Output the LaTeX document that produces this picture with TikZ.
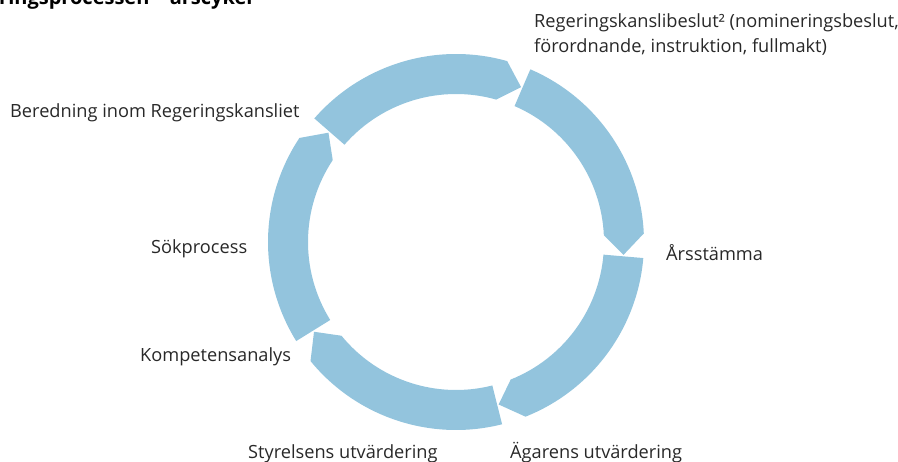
\documentclass[tikz,border=0pt]{standalone}
\usepackage{fontspec}
\setmainfont{Open Sans}
\usetikzlibrary{positioning}

\definecolor{ringblue}{RGB}{147,196,221}
\definecolor{labelgray}{RGB}{40,40,40}

\tikzset{
  seg/.style={fill=ringblue, draw=none},
  lbl/.style={anchor=base west, inner sep=0pt, text=labelgray, font=\fontsize{18.2}{25}\selectfont},
}

\begin{document}
\begin{tikzpicture}[x=1pt,y=1pt]

    \useasboundingbox (0,0) rectangle (898,-462);

    \node [lbl, font=\fontsize{20}{25}\selectfont\bfseries, text=black] at (-1,-5) (title) {ringsprocessen – årscykel};


    % the ring, five arrows going clockwise
    \begin{scope}[shift={(456,-242)}]
	\path [seg] (138.9:188) arc[start angle=138.9, end angle=74.2, radius=188] -- (67.2:168) -- (74.2:148) arc[start angle=74.2, end angle=138.9, radius=148] -- cycle;
	\path [seg] (66.7:188) arc[start angle=66.7, end angle=2.6, radius=188] -- (-4.4:168) -- (2.6:148) arc[start angle=2.6, end angle=66.7, radius=148] -- cycle;
	\path [seg] (-4.9:188) arc[start angle=-4.9, end angle=-68.3, radius=188] -- (-75.3:168) -- (-68.3:148) arc[start angle=-68.3, end angle=-4.9, radius=148] -- cycle;
	\path [seg] (-75.8:188) arc[start angle=-75.8, end angle=-140.7, radius=188] -- (-147.7:168) -- (-140.7:148) arc[start angle=-140.7, end angle=-75.8, radius=148] -- cycle;
	\path [seg] (-148.2:188) arc[start angle=-148.2, end angle=-213.6, radius=188] -- (-220.6:168) -- (-213.6:148) arc[start angle=-213.6, end angle=-148.2, radius=148] -- cycle;
    \end{scope}


    \node [lbl] at (534,-28) (beslut1) {Regeringskanslibeslut² (nomineringsbeslut,};
    \node [lbl] at (534,-53) (beslut2) {förordnande, instruktion, fullmakt)};
    \node [lbl] at (666,-261) (stamma) {Årsstämma};
    \node [lbl] at (510,-459) (agare) {Ägarens utvärdering};
    \node [lbl] at (248,-459) (styrelse) {Styrelsens utvärdering};
    \node [lbl] at (140,-362) (kompetens) {Kompetensanalys};
    \node [lbl] at (151,-254) (sok) {Sökprocess};
    \node [lbl] at (10,-118) (beredning) {Beredning inom Regeringskansliet};

\end{tikzpicture}
\end{document}
